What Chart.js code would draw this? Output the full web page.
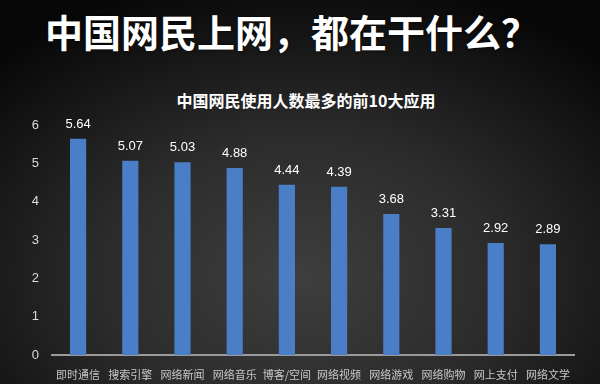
<!DOCTYPE html>
<html>
<head>
<meta charset="utf-8">
<script src="https://cdn.jsdelivr.net/npm/chart.js@4"></script>
<style>
  html, body { margin: 0; padding: 0; }
  body {
    width: 600px; height: 384px; overflow: hidden; position: relative;
    background: radial-gradient(ellipse 72% 80% at 50% 72%, #3e3e3e 0%, #2c2c2c 45%, #111111 85%, #070707 100%);
    font-family: "Noto Sans CJK SC", sans-serif;
  }
  #title {
    position: absolute; left: 0; top: 8px; width: 584px; text-align: center;
    color: #fff; font-size: 38px; font-weight: bold; line-height: 46px;
    text-shadow: 0 0 3px #000;
  }
  #sub {
    position: absolute; left: 0; top: 88px; width: 612px; text-align: center;
    color: #fff; font-size: 16px; font-weight: bold; line-height: 24px;
  }
  canvas { position: absolute; left: 0; top: 0; }
</style>
</head>
<body>
<div id="title">中国网民上网，都在干什么？</div>
<div id="sub">中国网民使用人数最多的前10大应用</div>
<canvas id="myChart" width="600" height="384"></canvas>
<script>
const categories = ["即时通信", "搜索引擎", "网络新闻", "网络音乐", "博客/空间", "网络视频", "网络游戏", "网络购物", "网上支付", "网络文学"];
const users = [5.64, 5.07, 5.03, 4.88, 4.44, 4.39, 3.68, 3.31, 2.92, 2.89];
const yTicks = [0, 1, 2, 3, 4, 5, 6];

const ctx = document.getElementById("myChart").getContext('2d');

// value labels above the bars
const valueLabels = {
    id: 'valueLabels',
    afterDatasetsDraw(chart) {
        const c = chart.ctx;
        const meta = chart.getDatasetMeta(0);
        c.save();
        c.fillStyle = '#ffffff';
        c.font = '13px "Liberation Sans", Arial, sans-serif';
        c.textAlign = 'center';
        c.textBaseline = 'bottom';
        meta.data.forEach((bar, i) => {
            c.fillText(users[i].toFixed(2), bar.x, bar.y - 8);
        });
        c.restore();
    }
};

const myChart = new Chart(ctx, {
    type: 'bar',
    data: {
        labels: categories,
        datasets: [{
            data: users,
            backgroundColor: '#4a7ec6',
            categoryPercentage: 1,
            barPercentage: 0.31,
        }]
    },
    options: {
        responsive: false,
        animation: false,
        layout: { padding: { top: 125, left: 22, right: 26, bottom: 0 } },
        plugins: {
            legend: { display: false },
            tooltip: { enabled: false },
        },
        scales: {
            x: {
                grid: { display: false },
                border: { display: true, color: '#9a9a9a', width: 2 },
                ticks: { color: '#c8c8c8', padding: 5, maxRotation: 0, autoSkip: false,
                    font: { size: 11, family: '"Noto Sans CJK SC", sans-serif' } },
                afterFit(scale) { scale.height = 29; }
            },
            y: {
                min: 0, max: 6,
                afterBuildTicks(scale) { scale.ticks = yTicks.map(v => ({ value: v })); },
                grid: { display: false, drawTicks: false },
                border: { display: false },
                ticks: { color: '#dcdcdc', padding: 13,
                    font: { size: 13, family: '"Liberation Sans", Arial, sans-serif' } },
                afterFit(scale) { scale.width = 30; }
            },
        },
    },
    plugins: [valueLabels]
});
</script>
</body>
</html>
